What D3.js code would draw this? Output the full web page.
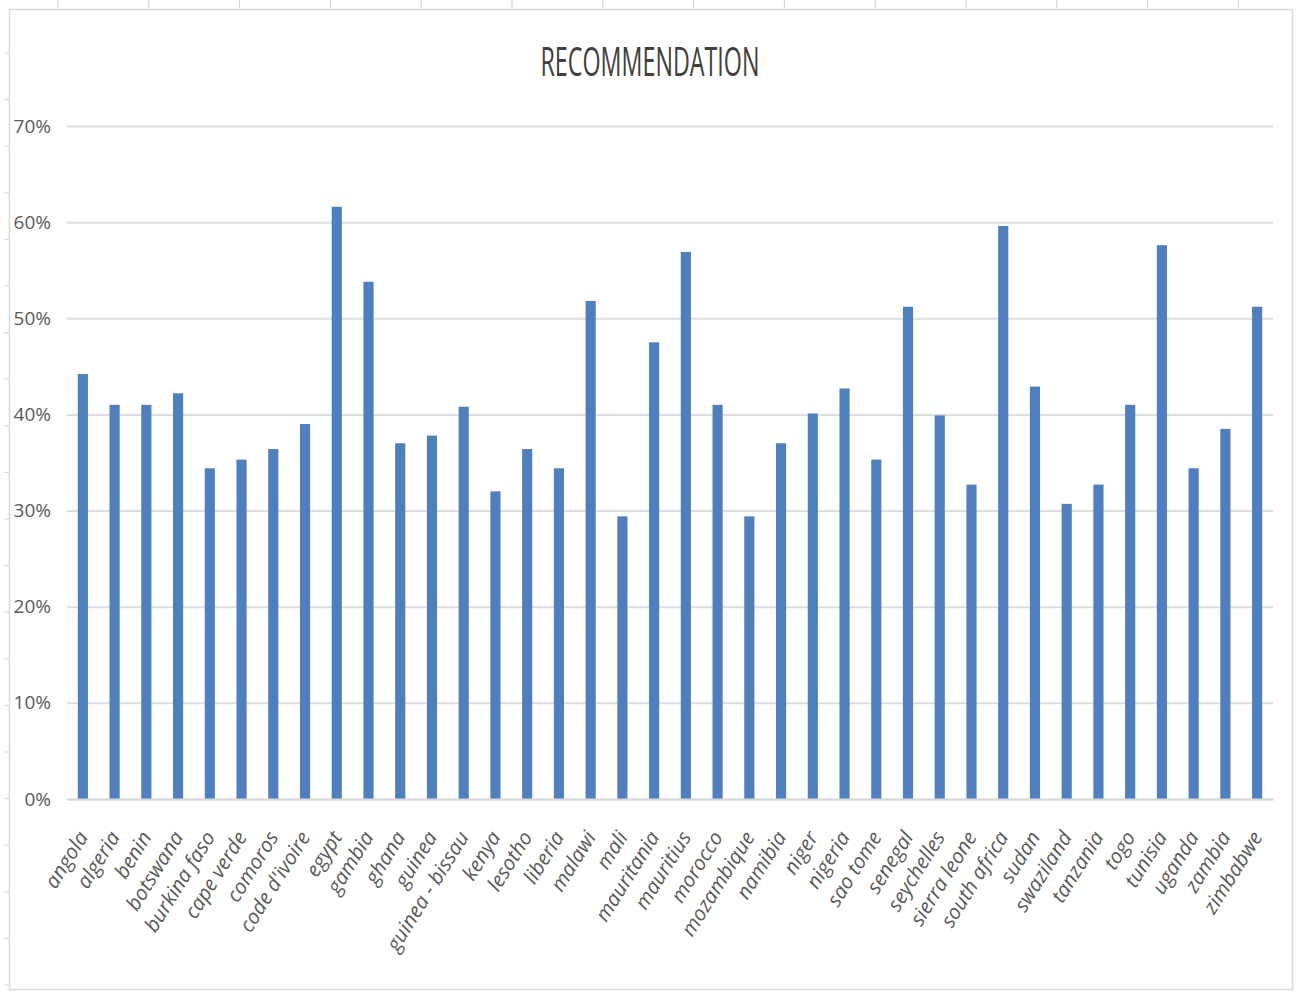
<!DOCTYPE html>
<html>
<head>
<meta charset="utf-8">
<script src="https://cdn.jsdelivr.net/npm/d3@7"></script>
<style>
  body { margin: 0; background: #fff; }
  #canvas { width: 1296px; height: 992px; }
</style>
</head>
<body>
<div id="canvas"></div>
<script>
var countries = ['angola', 'algeria', 'benin', 'botswana', 'burkina faso', 'cape verde', 'comoros',
  "code d'ivoire", 'egypt', 'gambia', 'ghana', 'guinea', 'guinea - bissau', 'kenya', 'lesotho',
  'liberia', 'malawi', 'mali', 'mauritania', 'mauritius', 'morocco', 'mozambique', 'namibia',
  'niger', 'nigeria', 'sao tome', 'senegal', 'seychelles', 'sierra leone', 'south africa', 'sudan',
  'swaziland', 'tanzania', 'togo', 'tunisia', 'uganda', 'zambia', 'zimbabwe'];

var recommendation = [0.442, 0.410, 0.410, 0.422, 0.344, 0.353, 0.364,
  0.390, 0.616, 0.538, 0.370, 0.378, 0.408, 0.320, 0.364,
  0.344, 0.518, 0.294, 0.475, 0.569, 0.410, 0.294, 0.370,
  0.401, 0.427, 0.353, 0.512, 0.399, 0.327, 0.596, 0.429,
  0.307, 0.327, 0.410, 0.576, 0.344, 0.385, 0.512];

var yTicks = [0, 0.1, 0.2, 0.3, 0.4, 0.5, 0.6, 0.7];

var W = 1296, H = 992;
var plotLeft = 67, plotRight = 1273, plotTop = 126, plotBottom = 799;

var svg = d3.select('#canvas').append('svg')
  .attr('width', W)
  .attr('height', H);

// ruler marks round the screenshot
svg.selectAll('line.rtop').data(d3.range(58, 1250, 90.8))
  .enter().append('line')
  .attr('x1', function (d) { return d; }).attr('x2', function (d) { return d; })
  .attr('y1', 0).attr('y2', 8)
  .attr('stroke', '#cfcfcf').attr('stroke-width', 1);
svg.selectAll('line.rleft').data(d3.range(53, 990, 46.6))
  .enter().append('line')
  .attr('x1', 4).attr('x2', 9)
  .attr('y1', function (d) { return d; }).attr('y2', function (d) { return d; })
  .attr('stroke', '#d6d6d6').attr('stroke-width', 1);

// chart border
svg.append('rect')
  .attr('x', 9.5).attr('y', 9.5)
  .attr('width', 1283).attr('height', 980)
  .attr('fill', '#fff')
  .attr('stroke', '#d9d9d9').attr('stroke-width', 1.5);

var x = d3.scaleBand().domain(countries).range([plotLeft, plotRight]).paddingInner(0.68).paddingOuter(0.34);
var y = d3.scaleLinear().domain([0, 0.7]).range([plotBottom, plotTop]);

// gridlines
svg.append('g')
  .attr('transform', 'translate(' + plotLeft + ',0)')
  .call(d3.axisLeft(y).tickValues(yTicks).tickSize(-(plotRight - plotLeft)).tickFormat(''))
  .call(function (g) {
    g.select('.domain').remove();
    g.selectAll('line').attr('stroke', '#dedede').attr('stroke-width', 2);
  });

// y labels
svg.append('g')
  .attr('transform', 'translate(' + plotLeft + ',0)')
  .call(d3.axisLeft(y).tickValues(yTicks).tickSize(0).tickPadding(16).tickFormat(d3.format('.0%')))
  .call(function (g) {
    g.select('.domain').remove();
    g.selectAll('text')
      .attr('fill', '#595959')
      .style('font-family', 'Open Sans, sans-serif')
      .style('font-size', '19px');
  });

// bars
svg.selectAll('rect.bar').data(recommendation)
  .enter().append('rect')
  .attr('class', 'bar')
  .attr('x', function (d, i) { return x(countries[i]); })
  .attr('y', function (d) { return y(d); })
  .attr('width', x.bandwidth())
  .attr('height', function (d) { return y(0) - y(d); })
  .attr('fill', '#4f80bd');

// x labels
svg.append('g')
  .attr('transform', 'translate(0,' + plotBottom + ')')
  .call(d3.axisBottom(x).tickSize(0).tickPadding(0))
  .call(function (g) {
    g.select('.domain').attr('stroke', '#d9d9d9').attr('stroke-width', 2);
    g.selectAll('text')
      .attr('fill', '#595959')
      .attr('text-anchor', 'end')
      .attr('dy', 0)
      .attr('transform', 'translate(6,38) rotate(-58)')
      .style('font-family', 'Open Sans, sans-serif')
      .style('font-style', 'italic')
      .style('font-size', '20.5px');
  });

// title
svg.append('text')
  .attr('x', 650).attr('y', 76)
  .attr('text-anchor', 'middle')
  .attr('fill', '#404040')
  .attr('textLength', 219)
  .attr('lengthAdjust', 'spacingAndGlyphs')
  .style('font-family', 'Open Sans, sans-serif')
  .style('font-size', '40px')
  .text('RECOMMENDATION');
</script>
</body>
</html>
